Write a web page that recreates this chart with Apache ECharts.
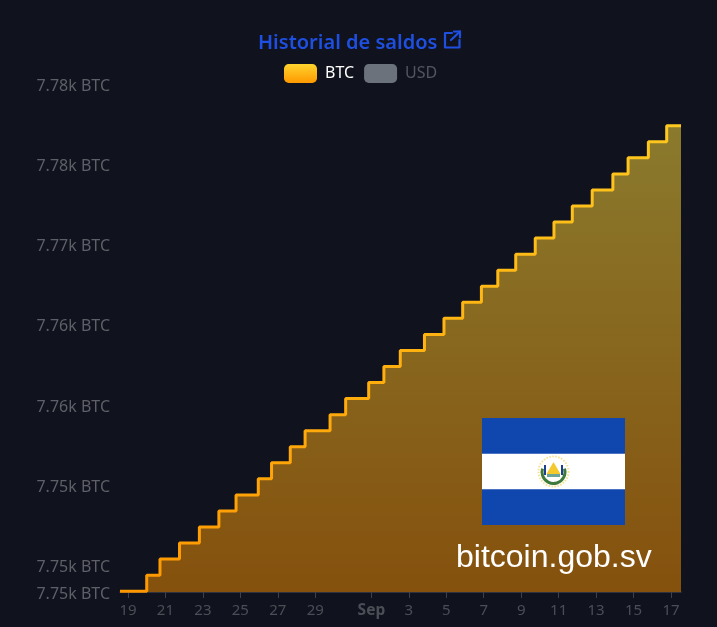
<!DOCTYPE html>
<html><head><meta charset="utf-8">
<style>html,body{margin:0;padding:0;background:#10131e}#c{width:717px;height:627px}</style>
<script src="https://cdn.jsdelivr.net/npm/echarts@6/dist/echarts.min.js"></script>
</head><body><div id="c"></div>
<script>
const stepTimes = ['2025-08-18T13:45Z','2025-08-20T00:00Z','2025-08-20T17:00Z','2025-08-21T18:00Z','2025-08-22T19:30Z','2025-08-23T20:30Z','2025-08-24T18:30Z','2025-08-25T23:00Z','2025-08-26T16:00Z','2025-08-27T16:00Z','2025-08-28T11:00Z','2025-08-29T19:00Z','2025-08-30T15:00Z','2025-08-31T20:30Z','2025-09-01T16:00Z','2025-09-02T13:00Z','2025-09-03T20:00Z','2025-09-04T21:00Z','2025-09-05T21:00Z','2025-09-06T21:00Z','2025-09-07T18:00Z','2025-09-08T17:00Z','2025-09-09T18:00Z','2025-09-10T18:00Z','2025-09-11T17:30Z','2025-09-12T19:00Z','2025-09-13T21:30Z','2025-09-14T17:00Z','2025-09-15T19:00Z','2025-09-16T18:30Z','2025-09-17T12:50Z'];
const btcValues = [7748.4,7749.4,7750.4,7751.4,7752.4,7753.4,7754.4,7755.4,7756.4,7757.4,7758.4,7759.4,7760.4,7761.4,7762.4,7763.4,7764.4,7765.4,7766.4,7767.4,7768.4,7769.4,7770.4,7771.4,7772.4,7773.4,7774.4,7775.4,7776.4,7777.4,7777.4];
const yTicks = [7748.35,7750,7755,7760,7765,7770,7775,7780];
const xTickDates = ['2025-08-19','2025-08-21','2025-08-23','2025-08-25','2025-08-27','2025-08-29','2025-09-01','2025-09-03','2025-09-05','2025-09-07','2025-09-09','2025-09-11','2025-09-13','2025-09-15','2025-09-17'];
const xTickLabels = ['19','21','23','25','27','29','Sep','3','5','7','9','11','13','15','17'];
const seriesNames = ['BTC','USD'];
const titleText = 'Historial de saldos';
const watermark = 'bitcoin.gob.sv';

const font = '"Noto Sans", sans-serif';
const xTickMs = xTickDates.map(d => Date.parse(d + 'T00:00Z'));
const timeMs = stepTimes.map(t => Date.parse(t));
const btcData = timeMs.map((t, i) => [t, btcValues[i]]);
const vGrad = (a, b) => new echarts.graphic.LinearGradient(0, 0, 0, 1, [{offset:0,color:a},{offset:1,color:b}]);
const iconStyle = {fill:null,stroke:'#1f4fe0',lineWidth:2.2,lineJoin:'round',lineCap:'round'};

const chart = echarts.init(document.getElementById('c'), null, {renderer:'canvas'});
chart.setOption({
  animation:false, backgroundColor:'#10131e',
  title:{text:titleText,left:258,top:33,padding:0,textStyle:{color:'#1f4fe0',fontFamily:font,fontSize:20,fontWeight:600}},
  legend:{left:284,top:64,padding:0,itemWidth:33,itemHeight:19,itemGap:10,icon:'roundRect',
    selectedMode:false,
    textStyle:{fontFamily:font,fontSize:16,padding:[0,0,0,3]},
    data:[
      {name:seriesNames[0],itemStyle:{color:vGrad('#ffd42e','#ff9800')},textStyle:{color:'#ffffff',fontFamily:font,fontSize:16,padding:[0,0,0,3]}},
      {name:seriesNames[1],itemStyle:{color:'#6c727b'},textStyle:{color:'#54565e',fontFamily:font,fontSize:16,padding:[0,0,0,3]}}
    ]},
  grid:{left:120,right:36,top:84,bottom:35},
  xAxis:{type:'value',min:timeMs[0],max:timeMs[timeMs.length-1],
    axisLine:{show:true,lineStyle:{color:'#3b3e49',width:1.5}},
    axisTick:{show:true,length:6,customValues:xTickMs,lineStyle:{color:'#3f424d'}},
    splitLine:{show:false},
    axisLabel:{customValues:xTickMs,margin:11,fontFamily:font,fontSize:15,color:'#4c4e56',hideOverlap:false,
      formatter:v=>{const l=xTickLabels[xTickMs.indexOf(v)];return l==='Sep'?'{b|Sep}':l;},
      rich:{b:{fontFamily:font,fontSize:15.5,fontWeight:700,color:'#4c4e56'}}}},
  yAxis:{type:'value',min:yTicks[0],max:yTicks[yTicks.length-1],
    axisLine:{show:false},axisTick:{show:false},splitLine:{show:false},
    axisLabel:{customValues:yTicks,margin:10,hideOverlap:false,
      formatter:v=>'{a|'+(v/1000).toFixed(2)+'k BTC}',
      rich:{a:{fontFamily:font,fontSize:16,color:'#5e5f67',padding:[4,0,0,0]}}}},
  series:[
    {name:seriesNames[0],type:'line',step:'end',showSymbol:false,symbol:'none',data:btcData,
     lineStyle:{width:3,color:vGrad('#ffc91f','#ff9800')},
     areaStyle:{opacity:1,color:vGrad('#8a7a2d','#85510d')}},
    {name:seriesNames[1],type:'line',data:[],showSymbol:false}
  ],
  graphic:[
    {type:'polyline',shape:{points:[[452,33],[445,33],[445,47.5],[459.5,47.5],[459.5,40]]},style:iconStyle,z:10},
    {type:'polyline',shape:{points:[[451,40],[460,31.5]]},style:iconStyle,z:10},
    {type:'polyline',shape:{points:[[454,31.5],[460,31.5],[460,37.5]]},style:iconStyle,z:10},
    {type:'rect',shape:{x:482,y:418,width:143,height:107},style:{fill:'#0f47af'},z:10},
    {type:'rect',shape:{x:482,y:453.7,width:143,height:35.6},style:{fill:'#ffffff'},z:11},
    {type:'circle',shape:{cx:553.5,cy:471.5,r:15},style:{fill:null,stroke:'#f6e38f',lineWidth:2,lineDash:[1.5,1.5]},z:12},
    {type:'arc',shape:{cx:553.5,cy:472,r:11.5,startAngle:-0.3,endAngle:Math.PI+0.3,clockwise:true},style:{fill:null,stroke:'#3f7a3c',lineWidth:3},z:12},
    {type:'line',shape:{x1:545,y1:465,x2:545,y2:475},style:{stroke:'#1c3f94',lineWidth:2},z:12},
    {type:'line',shape:{x1:562,y1:465,x2:562,y2:475},style:{stroke:'#1c3f94',lineWidth:2},z:12},
    {type:'polygon',shape:{points:[[553.5,462],[560.5,474],[546.5,474]]},style:{fill:'#f3c92b'},z:13},
    {type:'rect',shape:{x:547,y:474,width:13,height:3},style:{fill:'#6aa59c'},z:13},
    {type:'text',x:456,y:542,style:{text:watermark,fill:'#ffffff',fontFamily:'"Liberation Sans", Arial, sans-serif',fontSize:32},z:14}
  ]
});
</script></body></html>
